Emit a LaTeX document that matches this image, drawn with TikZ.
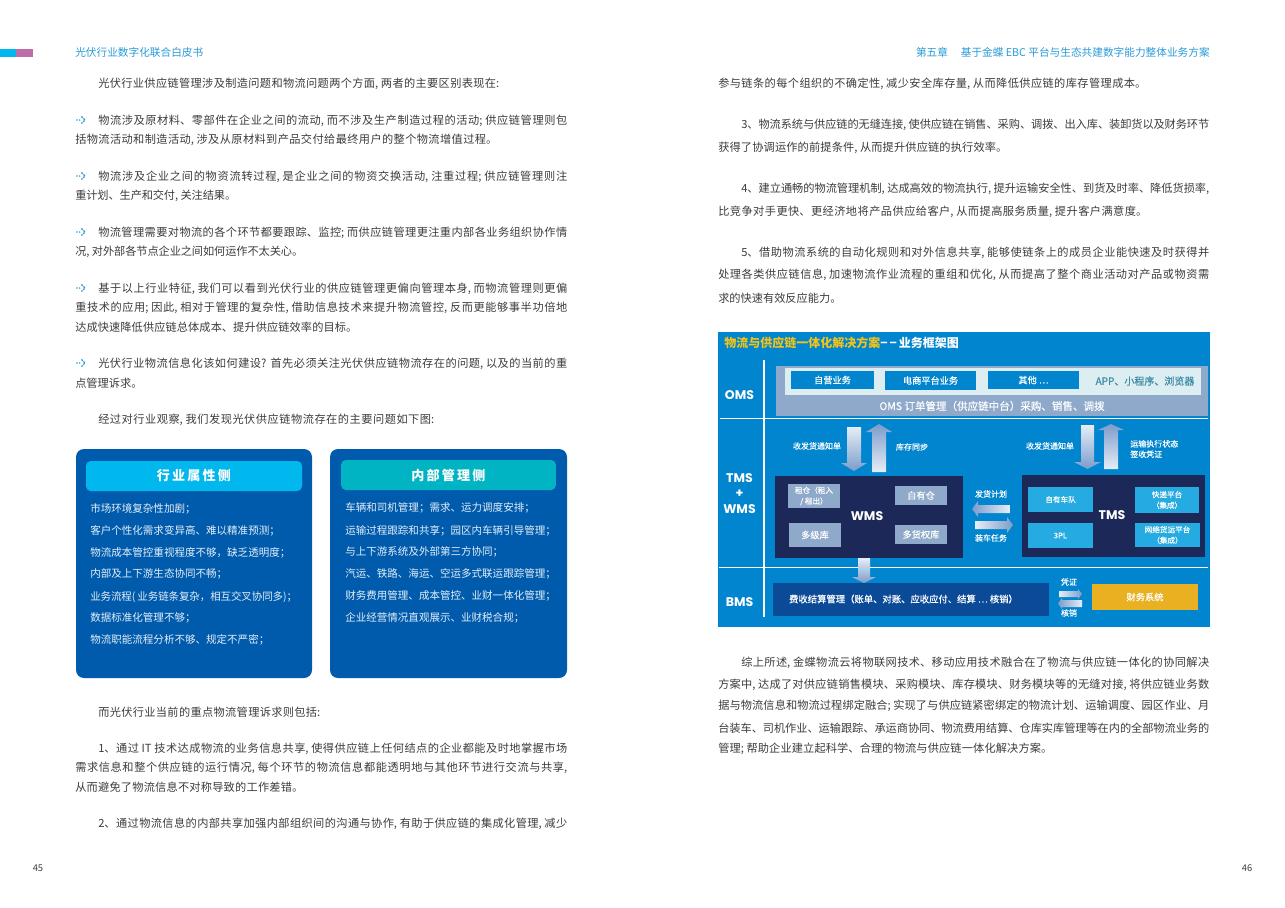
\documentclass[tikz,border=0pt]{standalone}
\usepackage{fontspec}
\setmainfont{Noto Sans CJK SC}
\newfontfamily\medfont[FakeBold=0.35]{Noto Sans CJK SC}
\newfontfamily\labfont{Poppins}
\XeTeXlinebreaklocale "zh"
\XeTeXlinebreakskip=0pt plus 2pt minus 0.4pt
\definecolor{bodyc}{HTML}{3C3C3C}
\definecolor{headc}{HTML}{2A9BD8}
\definecolor{pinkc}{HTML}{C06CA8}
\definecolor{panelc}{HTML}{005BAC}
\definecolor{hdra}{HTML}{00B7EE}
\definecolor{hdrb}{HTML}{00B4C4}
\definecolor{listc}{HTML}{E4EFF9}
\definecolor{dbg}{HTML}{0085CE}
\definecolor{grayb}{HTML}{8FA9CB}
\definecolor{lightb}{HTML}{DCEEF2}
\definecolor{navyb}{HTML}{1C2857}
\definecolor{skyb}{HTML}{25ABE1}
\definecolor{bmsb}{HTML}{0A4A97}
\definecolor{goldb}{HTML}{E9B122}
\definecolor{titley}{HTML}{F2C31A}
\definecolor{appc}{HTML}{3D8AA5}
\definecolor{arrl}{HTML}{E6EDF6}
\definecolor{arrd}{HTML}{7C9CCB}
\newcounter{tlc}
\newsavebox{\fitbox}
\newlength{\fitw}
% set one line to a given width when it nearly fits, otherwise at its natural width
\newcommand{\fitline}[3]{\setlength{\fitw}{\dimexpr(#2pt - #1pt)*3/4\relax}\sbox{\fitbox}{#3}\ifdim\wd\fitbox<\dimexpr\fitw+\fitw/64\relax\parbox{\fitw}{\parfillskip=0pt\tolerance=9999 #3}\else\usebox{\fitbox}\fi}
\newcommand{\bl}[4]{\stepcounter{tlc}\node[bodytext] (t\arabic{tlc}) at (#1,#2) {\fitline{#1}{#3}{#4}};}
\newcommand{\li}[4]{\stepcounter{tlc}\node[listtext] (t\arabic{tlc}) at (#1,#2) {\fitline{#1}{#3}{#4}};}
\newcommand{\bu}[1]{\fill[headc] (77,#1) circle (0.8) (79.7,#1) circle (0.8);\draw[headc,line width=0.9pt,dash pattern=on 1.4pt off 0.7pt] (81.5,#1-3.6) -- (85,#1) -- (81.5,#1+3.6);}
% filled box with centred text: style, x0,y0,x1,y1, colour, name, text
\newcommand{\cbox}[8]{\node[#1,fill=#6,minimum width={(#4-#2)*0.75pt},minimum height={(#5-#3)*0.75pt}] (#7) at ({(#2+#4)/2},{(#3+#5)/2}) {#8};}
\tikzset{
  bodytext/.style={anchor=west,inner sep=0pt,yshift=-0.8pt,text=bodyc,font=\fontsize{8.4}{10}\selectfont},
  listtext/.style={anchor=west,inner sep=0pt,yshift=-0.8pt,text=listc,font=\fontsize{7.9}{10}\selectfont},
  headtext/.style={inner sep=0pt,text=headc,font=\fontsize{8}{10}\selectfont},
  pagenum/.style={inner sep=0pt,text=bodyc,font=\fontsize{7}{9}\selectfont},
  cell/.style={inner sep=0pt,align=center,text=white,font=\medfont\fontsize{6.9}{8.5}\selectfont},
  cellsmall/.style={inner sep=0pt,align=center,text=white,font=\medfont\fontsize{5.7}{8}\selectfont},
  smalllab/.style={inner sep=0pt,align=left,text=white,font=\medfont\fontsize{6}{7.8}\selectfont},
  lab/.style={inner sep=0pt,align=center,text=white,font=\labfont\bfseries\fontsize{9.4}{11.6}\selectfont},
  pnl/.style={fill=panelc,rounded corners=6pt},
  hdr/.style={rounded corners=3.5pt,inner sep=0pt,text=white,font=\bfseries\fontsize{9.8}{12}\selectfont},
  whiteline/.style={draw=white,line width=0.7pt},
}
\begin{document}
\begin{tikzpicture}[x=0.75pt,y=-0.75pt]
\useasboundingbox (0,0) rectangle (1285,907);
\fill[white] (0,0) rectangle (1285,907);
% page top marks
\fill[hdra] (0,49) rectangle (16,57);
\fill[pinkc] (16,49) rectangle (33,57);
\node[headtext,anchor=west] (headl) at (75,52) {光伏行业数字化联合白皮书};
\node[headtext,anchor=east] (headr) at (1210,52) {第五章\hspace{1.2em}基于金蝶 EBC 平台与生态共建数字能力整体业务方案};
\node[pagenum] (pl) at (38,868) {45};
\node[pagenum] (pr) at (1247,868) {46};
% left page
\bl{98}{83}{499}{光伏行业供应链管理涉及制造问题和物流问题两个方面, 两者的主要区别表现在:}
\bu{120}\bl{98}{120}{567}{物流涉及原材料、零部件在企业之间的流动, 而不涉及生产制造过程的活动; 供应链管理则包}
\bl{75}{139}{497}{括物流活动和制造活动, 涉及从原材料到产品交付给最终用户的整个物流增值过程。}
\bu{176}\bl{98}{176}{567}{物流涉及企业之间的物资流转过程, 是企业之间的物资交换活动, 注重过程; 供应链管理则注}
\bl{75}{195}{236}{重计划、生产和交付, 关注结果。}
\bu{232}\bl{98}{232}{567}{物流管理需要对物流的各个环节都要跟踪、监控; 而供应链管理更注重内部各业务组织协作情}
\bl{75}{251}{303}{况, 对外部各节点企业之间如何运作不太关心。}
\bu{288}\bl{98}{288}{567}{基于以上行业特征, 我们可以看到光伏行业的供应链管理更偏向管理本身, 而物流管理则更偏}
\bl{75}{307}{567}{重技术的应用; 因此, 相对于管理的复杂性, 借助信息技术来提升物流管控, 反而更能够事半功倍地}
\bl{75}{326}{357}{达成快速降低供应链总体成本、提升供应链效率的目标。}
\bu{363}\bl{98}{363}{567}{光伏行业物流信息化该如何建设? 首先必须关注光伏供应链物流存在的问题, 以及的当前的重}
\bl{75}{382}{139}{点管理诉求。}
\bl{98}{419}{434}{经过对行业观察, 我们发现光伏供应链物流存在的主要问题如下图:}
% panels
\fill[pnl] (76,449) rectangle (312,678);
\fill[pnl] (330,449) rectangle (567,678);
\node[hdr,fill=hdra,minimum width=162pt,minimum height=22.5pt] (ha) at (194,476) {行\,业\,属\,性\,侧};
\node[hdr,fill=hdrb,minimum width=161pt,minimum height=22.5pt] (hb) at (448.5,475) {内\,部\,管\,理\,侧};
\li{90}{508}{191}{市场环境复杂性加剧；}
\li{90}{530}{276}{客户个性化需求变异高、难以精准预测；}
\li{90}{552}{287}{物流成本管控重视程度不够，缺乏透明度；}
\li{90}{573}{223}{内部及上下游生态协同不畅；}
\li{90}{596}{297}{业务流程( 业务链条复杂，相互交叉协同多)；}
\li{90}{617}{191}{数据标准化管理不够；}
\li{90}{639}{265}{物流职能流程分析不够、规定不严密；}
\li{345}{507}{530}{车辆和司机管理；需求、运力调度安排；}
\li{345}{530}{552}{运输过程跟踪和共享；园区内车辆引导管理；}
\li{345}{551}{498}{与上下游系统及外部第三方协同；}
\li{345}{573}{552}{汽运、铁路、海运、空运多式联运跟踪管理；}
\li{345}{595}{552}{财务费用管理、成本管控、业财一体化管理；}
\li{345}{617}{520}{企业经营情况直观展示、业财税合规；}
\bl{98}{711}{320}{而光伏行业当前的重点物流管理诉求则包括:}
\bl{98}{748}{567}{1、通过 IT 技术达成物流的业务信息共享, 使得供应链上任何结点的企业都能及时地掌握市场}
\bl{75}{767}{567}{需求信息和整个供应链的运行情况, 每个环节的物流信息都能透明地与其他环节进行交流与共享,}
\bl{75}{786}{303}{从而避免了物流信息不对称导致的工作差错。}
\bl{98}{823}{567}{2、通过物流信息的内部共享加强内部组织间的沟通与协作, 有助于供应链的集成化管理, 减少}
% right page
\bl{718}{83}{1146}{参与链条的每个组织的不确定性, 减少安全库存量, 从而降低供应链的库存管理成本。}
\bl{741}{124}{1209}{3、物流系统与供应链的无缝连接, 使供应链在销售、采购、调拨、出入库、装卸货以及财务环节}
\bl{718}{147}{1007}{获得了协调运作的前提条件, 从而提升供应链的执行效率。}
\bl{741}{188}{1209}{4、建立通畅的物流管理机制, 达成高效的物流执行, 提升运输安全性、到货及时率、降低货损率,}
\bl{718}{211}{1147}{比竞争对手更快、更经济地将产品供应给客户, 从而提高服务质量, 提升客户满意度。}
\bl{741}{252}{1209}{5、借助物流系统的自动化规则和对外信息共享, 能够使链条上的成员企业能快速及时获得并}
\bl{718}{274}{1209}{处理各类供应链信息, 加速物流作业流程的重组和优化, 从而提高了整个商业活动对产品或物资需}
\bl{718}{297}{838}{求的快速有效反应能力。}
\bl{741}{662}{1209}{综上所述, 金蝶物流云将物联网技术、移动应用技术融合在了物流与供应链一体化的协同解决}
\bl{718}{684}{1209}{方案中, 达成了对供应链销售模块、采购模块、库存模块、财务模块等的无缝对接, 将供应链业务数}
\bl{718}{705}{1209}{据与物流信息和物流过程绑定融合; 实现了与供应链紧密绑定的物流计划、运输调度、园区作业、月}
\bl{718}{727}{1209}{台装车、司机作业、运输跟踪、承运商协同、物流费用结算、仓库实库管理等在内的全部物流业务的}
\bl{718}{748}{1052}{管理; 帮助企业建立起科学、合理的物流与供应链一体化解决方案。}
% framework diagram
\fill[dbg] (718,332) rectangle (1210,627);
\node[anchor=west,inner sep=0pt,font=\bfseries\fontsize{9}{10}\selectfont] (dtitle) at (724,343) {\textcolor{titley}{物流与供应链一体化解决方案}\textcolor{white}{−\,−\,业务框架图}};
\draw[whiteline,line width=2pt] (764,360) -- (764,617);
\draw[whiteline] (720,418) -- (1208,418);
\draw[whiteline] (719,567) -- (1208,567);
\node[lab] (loms) at (739.5,395) {OMS};
\node[lab] (ltms) at (739.5,493.5) {TMS\\+\\WMS};
\node[lab] (lbms) at (739.5,602) {BMS};
\fill[grayb] (776,366) rectangle (1208,416);
\fill[lightb] (785,368) rectangle (1201,395);
\cbox{cell}{791}{371}{874}{389}{dbg}{ziying}{自营业务}
\cbox{cell}{885}{371}{976}{390}{dbg}{dianshang}{电商平台业务}
\cbox{cell}{988}{371}{1079}{389}{dbg}{qita}{其他 ⋯}
\node[anchor=center,inner sep=0pt,text=appc,font=\medfont\fontsize{7.5}{9}\selectfont] (app) at (1145,381) {APP、小程序、浏览器};
\node[cell,font=\medfont\fontsize{7.9}{9}\selectfont] (omsb) at (992,406) {OMS 订单管理（供应链中台）采购、销售、调拨};
% vertical arrows
\shade[top color=arrl,bottom color=arrd] (847,427) -- (861,427) -- (861,463) -- (867,463) -- (854,471) -- (841,463) -- (847,463) -- cycle;
\shade[top color=arrd,bottom color=arrl] (872,472) -- (886,472) -- (886,432) -- (892,432) -- (879,424) -- (866,432) -- (872,432) -- cycle;
\shade[top color=arrl,bottom color=arrd] (1081,425) -- (1094,425) -- (1094,462) -- (1101,462) -- (1087.5,469) -- (1074,462) -- (1081,462) -- cycle;
\shade[top color=arrd,bottom color=arrl] (1104,469) -- (1118,469) -- (1118,430) -- (1124,430) -- (1111,424) -- (1098,430) -- (1104,430) -- cycle;
\node[smalllab] (a1) at (817,446) {收发货通知单};
\node[smalllab] (a2) at (912,447) {库存同步};
\node[smalllab] (a3) at (1050,446) {收发货通知单};
\node[smalllab,anchor=west] (a4) at (1130,449) {运输执行状态\\签收凭证};
% WMS
\fill[navyb] (775,476) rectangle (963,558);
\cbox{cellsmall}{788}{484}{840}{508}{grayb}{zc}{租仓（租入\\/ 租出）}
\cbox{cell}{895}{486}{947}{505}{grayb}{zyc}{自有仓}
\cbox{cell}{789}{523}{841}{547}{grayb}{djk}{多级库}
\cbox{cell}{895}{525}{947}{544}{grayb}{dhq}{多货权库}
\node[lab] (wms) at (867,516) {WMS};
% TMS
\fill[navyb] (1022,475) rectangle (1205,557);
\cbox{cellsmall}{1028}{487}{1093}{512}{skyb}{zycd}{自有车队}
\cbox{cellsmall}{1135}{487}{1199}{513}{skyb}{kd}{快递平台\\（集成）}
\cbox{cellsmall}{1028}{523}{1093}{548}{skyb}{tpl}{3PL}
\cbox{cellsmall}{1135}{523}{1200}{547}{skyb}{wl}{网络货运平台\\（集成）}
\node[lab] (tms) at (1112,515) {TMS};
% horizontal arrows
\shade[left color=arrd,right color=arrl] (1010,505) -- (1010,513) -- (978,513) -- (978,517) -- (972,509) -- (978,501) -- (978,505) -- cycle;
\shade[left color=arrl,right color=arrd] (975,521) -- (975,529) -- (1007,529) -- (1007,533) -- (1013,525) -- (1007,517) -- (1007,521) -- cycle;
\node[smalllab] (fh) at (991,494) {发货计划};
\node[smalllab] (zc2) at (991,538) {装车任务};
% BMS
\shade[top color=arrl,bottom color=arrd] (858,558) -- (870,558) -- (870,577) -- (876,577) -- (864,583) -- (852,577) -- (858,577) -- cycle;
\fill[bmsb] (773,583) rectangle (1049,616);
\node[cell,font=\medfont\fontsize{7}{9}\selectfont] (fs) at (903.5,599) {费收结算管理（账单、对账、应收应付、结算 ⋯ 核销）};
\shade[left color=arrl,right color=arrd] (1059,591) -- (1059,597) -- (1078,597) -- (1078,599) -- (1082,594) -- (1078,589) -- (1078,591) -- cycle;
\shade[left color=arrd,right color=arrl] (1082,600) -- (1082,607) -- (1062,607) -- (1062,609) -- (1058,603.5) -- (1062,598) -- (1062,600) -- cycle;
\node[smalllab] (pz) at (1069,582) {凭证};
\node[smalllab] (hx) at (1069,613) {核销};
\cbox{cell}{1092}{584}{1198}{610}{goldb}{cw}{财务系统}
\end{tikzpicture}
\end{document}
